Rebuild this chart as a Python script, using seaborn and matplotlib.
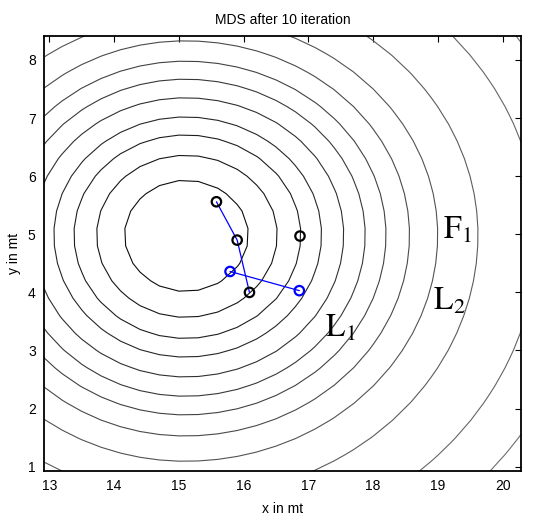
import numpy as np
import matplotlib
matplotlib.use("Agg")
import matplotlib.pyplot as plt
import seaborn as sns

# ---- data ----
title = "MDS after 10 iteration"
x_label = "x in mt"
y_label = "y in mt"
x_ticks = [13, 14, 15, 16, 17, 18, 19, 20]
y_ticks = [1, 2, 3, 4, 5, 6, 7, 8]
x_range = [12.918, 20.282]
y_range = [0.926, 8.413]

# contour field: centre, level radii (measured upward / leftward) and the
# stretch of the field towards the right and towards the bottom
contour_center_x = 15.1
contour_center_y = 4.99
contour_levels = [0.94, 1.37, 1.72, 2.03, 2.36, 2.68, 2.99, 3.34, 3.76, 4.36, 5.25, 6.0]
stretch_right = 0.965
stretch_down = 0.965

# node positions
black_x = [15.58, 15.90, 16.09, 16.87]
black_y = [5.56, 4.90, 4.00, 4.97]
blue_x = [15.79, 16.86]
blue_y = [4.36, 4.03]
path_a_x = [15.58, 15.90, 16.09]
path_a_y = [5.56, 4.90, 4.00]
path_b_x = [15.79, 16.86]
path_b_y = [4.36, 4.03]

# annotations
label_text = [r"$\mathrm{F}_1$", r"$\mathrm{L}_1$", r"$\mathrm{L}_2$"]
label_x = [19.08, 17.26, 18.93]
label_y = [4.93, 3.24, 3.70]

# ---- styling ----
sns.set_theme(style="white")
plt.rcParams["font.family"] = ["Liberation Sans", "DejaVu Sans"]
plt.rcParams["mathtext.fontset"] = "stix"

fig = plt.figure(figsize=(5.36, 5.18), dpi=100)
ax = fig.add_axes([44 / 536, 47 / 518, 477 / 536, 435 / 518])

# coarse grid (MATLAB-like polygonal contours)
gx = np.arange(12.3, 21.0, 0.3)
gy = np.arange(0.3, 9.2, 0.3)
GX, GY = np.meshgrid(gx, gy)
DX = GX - contour_center_x
DY = GY - contour_center_y
DX = np.where(DX > 0, DX * stretch_right, DX)
DY = np.where(DY < 0, DY * stretch_down, DY)
Z = np.hypot(DX, DY)

n = len(contour_levels)
greys = [str(round(0.05 + 0.38 * i / (n - 1), 3)) for i in range(n)]
ax.contour(GX, GY, Z, levels=contour_levels, colors=greys, linewidths=0.8)

# connecting lines
sns.lineplot(x=path_a_x, y=path_a_y, sort=False, estimator=None, ax=ax,
             color="#0000ff", linewidth=0.9)
sns.lineplot(x=path_b_x, y=path_b_y, sort=False, estimator=None, ax=ax,
             color="#0000ff", linewidth=0.9)

# markers
sns.scatterplot(x=black_x, y=black_y, ax=ax, marker="o", s=46,
                facecolor="none", edgecolor="black", linewidth=1.6, zorder=5)
sns.scatterplot(x=blue_x, y=blue_y, ax=ax, marker="o", s=46,
                facecolor="none", edgecolor="#0000ff", linewidth=1.6, zorder=5)

for t, tx, ty in zip(label_text, label_x, label_y):
    ax.text(tx, ty, t, fontsize=23, ha="left", va="baseline", color="black")

ax.set_xlim(x_range)
ax.set_ylim(y_range)
ax.set_xticks(x_ticks)
ax.set_yticks(y_ticks)
ax.tick_params(direction="in", top=True, right=True, length=4, width=0.8,
               labelsize=10, pad=6, colors="black")
for s in ax.spines.values():
    s.set_visible(True)
    s.set_color("black")
    s.set_linewidth(1.3)

ax.set_title(title, fontsize=10, pad=9, color="black")
ax.set_xlabel(x_label, fontsize=10, labelpad=6, color="black")
ax.set_ylabel(y_label, fontsize=10, labelpad=5, color="black")

fig.savefig("out.png", dpi=100)
